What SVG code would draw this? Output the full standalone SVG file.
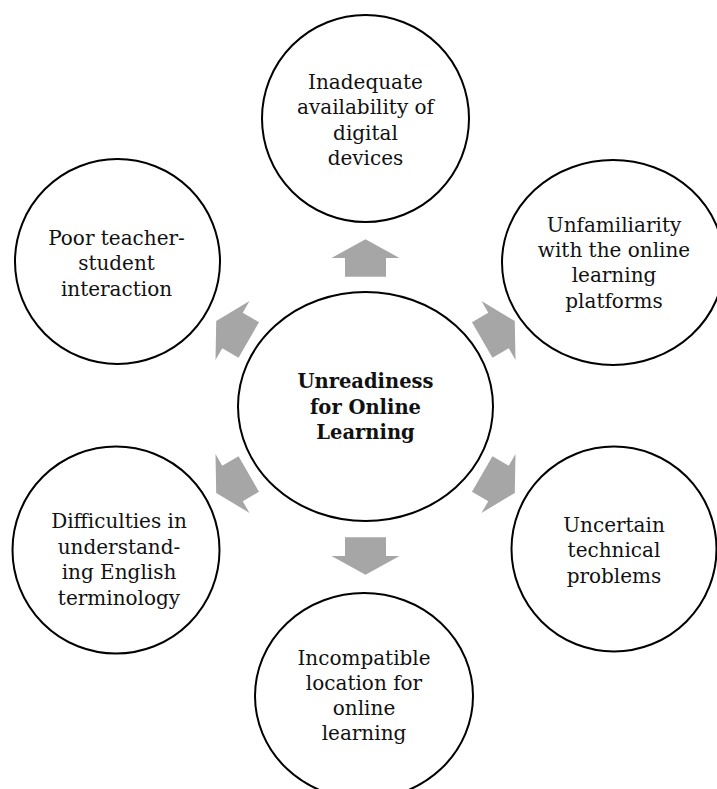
<svg xmlns="http://www.w3.org/2000/svg" width="717" height="789" viewBox="0 0 717 789">
  <style>
    .bubble { fill: #ffffff; stroke: #000000; stroke-width: 2; }
    .label { font-family: "DejaVu Serif", "Liberation Serif", serif; font-size: 20px; fill: #111111; text-anchor: middle; }
    .core { font-family: "DejaVu Serif", "Liberation Serif", serif; font-size: 19.5px; font-weight: bold; fill: #111111; text-anchor: middle; }
    .arrow { fill: #a6a6a6; }
  </style>
  <defs>
    <!-- block arrow pointing along +x, centred on the origin -->
    <polygon id="blockArrow" points="-18.8,-20.5 0,-20.5 0,-34 18.8,0 0,34 0,20.5 -18.8,20.5"/>
  </defs>
  <rect width="717" height="789" fill="#ffffff"/>

  <g id="connectors" class="arrow">
    <use href="#blockArrow" transform="translate(365.5,258) rotate(-90)"/>
    <use href="#blockArrow" transform="translate(498.5,330.5) rotate(-30)"/>
    <use href="#blockArrow" transform="translate(498.5,483.5) rotate(30)"/>
    <use href="#blockArrow" transform="translate(365.5,556) rotate(90)"/>
    <use href="#blockArrow" transform="translate(232.5,483.5) rotate(150)"/>
    <use href="#blockArrow" transform="translate(232.5,330.5) rotate(210)"/>
  </g>

  <g id="node-center">
    <ellipse class="bubble" cx="365.5" cy="406.5" rx="127.5" ry="114.5"/>
    <text class="core" x="365.5" y="388">Unreadiness</text>
    <text class="core" x="365.5" y="413.5">for Online</text>
    <text class="core" x="365.5" y="439">Learning</text>
  </g>

  <g id="node-devices">
    <circle class="bubble" cx="365.5" cy="118.5" r="103.5"/>
    <text class="label" x="365.5" y="89">Inadequate</text>
    <text class="label" x="365.5" y="114">availability of</text>
    <text class="label" x="365.5" y="139.5">digital</text>
    <text class="label" x="365.5" y="164.5">devices</text>
  </g>

  <g id="node-platforms">
    <ellipse class="bubble" cx="613" cy="262.5" rx="111" ry="102.5"/>
    <text class="label" x="614" y="231.5">Unfamiliarity</text>
    <text class="label" x="614" y="257">with the online</text>
    <text class="label" x="614" y="282">learning</text>
    <text class="label" x="614" y="308">platforms</text>
  </g>

  <g id="node-technical">
    <circle class="bubble" cx="614" cy="549" r="102.5"/>
    <text class="label" x="614" y="531.5">Uncertain</text>
    <text class="label" x="614" y="557">technical</text>
    <text class="label" x="614" y="582.5">problems</text>
  </g>

  <g id="node-location">
    <ellipse class="bubble" cx="364" cy="696" rx="109" ry="103"/>
    <text class="label" x="364" y="665">Incompatible</text>
    <text class="label" x="364" y="690">location for</text>
    <text class="label" x="364" y="715">online</text>
    <text class="label" x="364" y="740">learning</text>
  </g>

  <g id="node-terminology">
    <circle class="bubble" cx="116" cy="550" r="103.5"/>
    <text class="label" x="119" y="528">Difficulties in</text>
    <text class="label" x="119" y="553.5">understand-</text>
    <text class="label" x="119" y="579">ing English</text>
    <text class="label" x="119" y="604.5">terminology</text>
  </g>

  <g id="node-interaction">
    <circle class="bubble" cx="117.5" cy="261.5" r="102.5"/>
    <text class="label" x="116.5" y="245">Poor teacher-</text>
    <text class="label" x="116.5" y="270">student</text>
    <text class="label" x="116.5" y="295.5">interaction</text>
  </g>
</svg>
